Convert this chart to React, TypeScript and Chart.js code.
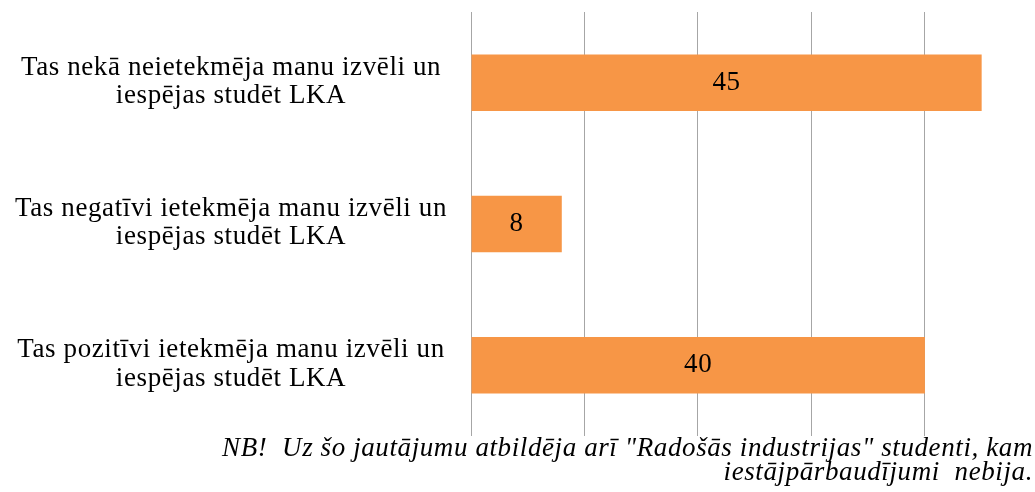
import React, { useEffect, useRef } from "react";
import { Chart, registerables } from "chart.js";

Chart.register(...registerables);

const categories: string[][] = [
  ["Tas nekā neietekmēja manu izvēli un", "iespējas studēt LKA"],
  ["Tas negatīvi ietekmēja manu izvēli un", "iespējas studēt LKA"],
  ["Tas pozitīvi ietekmēja manu izvēli un", "iespējas studēt LKA"],
];
const values: number[] = [45, 8, 40];
const footnoteLines: string[] = [
  "NB!  Uz šo jautājumu atbildēja arī \"Radošās industrijas\" studenti, kam",
  "iestājpārbaudījumi  nebija.",
];

const FONT = "'Liberation Serif', 'Times New Roman', serif";
const SPACING = "0.6px";

const letterSpacing = {
  id: "letterSpacing",
  beforeLayout(chart: any) {
    (chart.ctx as any).letterSpacing = SPACING;
  },
  beforeDraw(chart: any) {
    (chart.ctx as any).letterSpacing = SPACING;
  },
};

const valueLabels = {
  id: "valueLabels",
  afterDatasetsDraw(chart: any) {
    const ctx = chart.ctx;
    const meta = chart.getDatasetMeta(0);
    ctx.save();
    (ctx as any).letterSpacing = SPACING;
    ctx.font = `27px ${FONT}`;
    ctx.fillStyle = "#000000";
    ctx.textAlign = "center";
    ctx.textBaseline = "middle";
    meta.data.forEach((bar: any, i: number) => {
      const { x, y, base } = bar.getProps(["x", "y", "base"], true);
      ctx.fillText(String(chart.data.datasets[0].data[i]), (x + base) / 2, y);
    });
    ctx.restore();
  },
};

export default function App() {
  const ref = useRef<HTMLCanvasElement | null>(null);
  useEffect(() => {
    if (!ref.current) return;
    const chart = new Chart(ref.current, {
      type: "bar",
      data: {
        labels: categories,
        datasets: [
          {
            data: values,
            backgroundColor: "#F79646",
            borderWidth: 0,
            barPercentage: 0.4,
            categoryPercentage: 1,
          },
        ],
      },
      options: {
        indexAxis: "y",
        animation: false,
        responsive: false,
        layout: { padding: { top: 12, bottom: 56, left: 0, right: 0 } },
        plugins: {
          legend: { display: false },
          tooltip: { enabled: false },
          title: { display: false },
        },
        scales: {
          x: {
            min: 0,
            max: 49.7,
            ticks: { display: false, stepSize: 10 },
            border: { display: false },
            grid: {
              drawTicks: false,
              color: (c: any) =>
                c.tick && c.tick.value % 10 === 0 ? "#a6a6a6" : "rgba(0,0,0,0)",
              lineWidth: 1,
            },
          },
          y: {
            ticks: {
              color: "#000000",
              font: { family: FONT, size: 27, lineHeight: 1.055 },
              crossAlign: "center",
              padding: 24,
              labelOffset: -1,
            },
            grid: { display: false, drawTicks: false },
            border: { display: false },
            afterFit: (scale: any) => {
              scale.width = 471;
              scale.paddingTop = 0;
              scale.paddingBottom = 0;
            },
          },
        },
      },
      plugins: [letterSpacing, valueLabels],
    });
    return () => chart.destroy();
  }, []);

  return (
    <div style={{ position: "absolute", left: 0, top: 0, width: 1035, height: 492, overflow: "hidden", background: "#fff" }}>
      <canvas ref={ref} width={1035} height={492} style={{ display: "block", position: "absolute", left: 0, top: 0 }} />
      <div
        style={{
          position: "absolute",
          right: 2,
          top: 435,
          textAlign: "right",
          fontFamily: FONT,
          fontStyle: "italic",
          fontSize: 27,
          lineHeight: "24px",
          letterSpacing: SPACING,
          whiteSpace: "pre",
          color: "#000",
        }}
      >
        {footnoteLines.map((l, i) => (
          <div key={i}>{l}</div>
        ))}
      </div>
    </div>
  );
}
